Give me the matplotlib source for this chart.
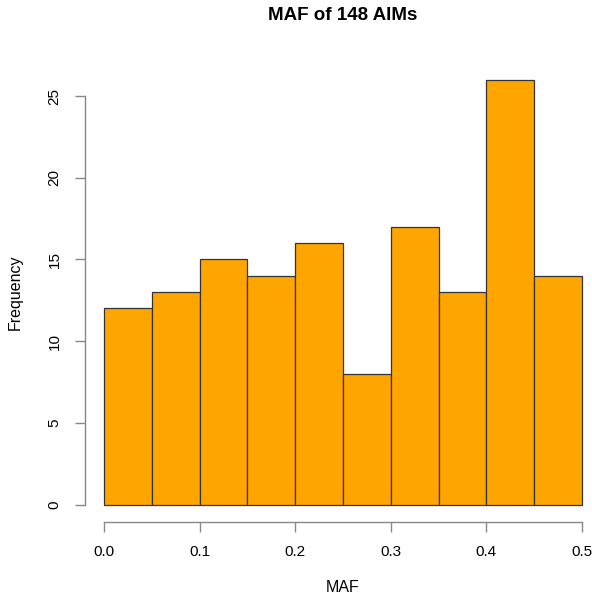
import numpy as np
import matplotlib.pyplot as plt

plt.rcParams['font.family'] = ['Liberation Sans', 'DejaVu Sans']

# histogram of MAF values (bin edges and counts)
bin_edges = [0.0, 0.05, 0.10, 0.15, 0.20, 0.25, 0.30, 0.35, 0.40, 0.45, 0.50]
counts = [12, 13, 15, 14, 16, 8, 17, 13, 26, 14]
x_ticks = [0.0, 0.1, 0.2, 0.3, 0.4, 0.5]
x_tick_labels = ['0.0', '0.1', '0.2', '0.3', '0.4', '0.5']
y_ticks = [0, 5, 10, 15, 20, 25]

fig = plt.figure(figsize=(5.92, 5.94), dpi=100)
ax = fig.add_axes([85 / 592, 1 - 521.5 / 594, 516 / 592, 458.8 / 594])

edges = np.array(bin_edges)
ax.bar(edges[:-1], counts, width=np.diff(edges), align='edge',
       color='orange', edgecolor='#333333', linewidth=0.9)

# R-style axes: 4% padding, no box, gray axis lines only across tick range
ax.set_xlim(-0.02, 0.52)
ax.set_ylim(-1.04, 27.04)
for side in ['top', 'right']:
    ax.spines[side].set_visible(False)
ax.spines['left'].set_bounds(0, 25)
ax.spines['bottom'].set_bounds(0, 0.5)
for side in ['left', 'bottom']:
    ax.spines[side].set_color('#888888')
    ax.spines[side].set_linewidth(1.0)

ax.set_xticks(x_ticks)
ax.set_xticklabels(x_tick_labels)
ax.set_yticks(y_ticks)
ax.set_yticklabels([str(v) for v in y_ticks], rotation=90, va='center')
ax.tick_params(axis='both', length=7, width=1.0, color='#888888',
               labelsize=11, labelcolor='black')
ax.tick_params(axis='x', pad=10)
ax.tick_params(axis='y', pad=10)

ax.set_xlabel('MAF', fontsize=11.5, labelpad=15)
ax.set_ylabel('Frequency', fontsize=11.5, labelpad=18)
# title centred over the plot region, like R does
ax.set_title('MAF of 148 AIMs', fontsize=13.5, fontweight='bold', pad=31)

plt.savefig('out.png', dpi=100)
